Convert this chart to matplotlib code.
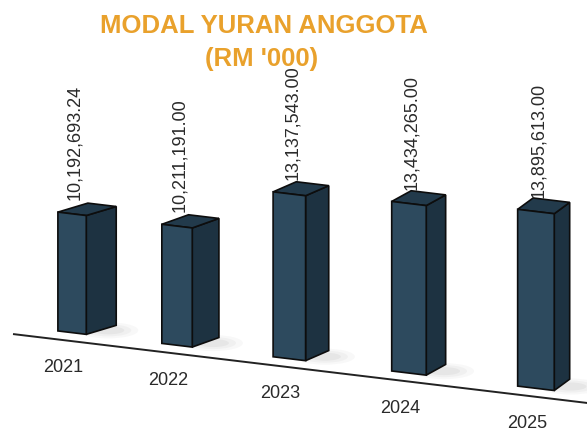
import numpy as np
import matplotlib
matplotlib.use('Agg')
import matplotlib.pyplot as plt
from matplotlib.transforms import Affine2D, IdentityTransform
from matplotlib.patches import Polygon, Ellipse

# ---- data ----
years = ['2021', '2022', '2023', '2024', '2025']
values = [10192693.24, 10211191.00, 13137543.00, 13434265.00, 13895613.00]
value_labels = ['10,192,693.24', '10,211,191.00', '13,137,543.00',
                '13,434,265.00', '13,895,613.00']
title_line1 = 'MODAL YURAN ANGGOTA'
title_line2 = "(RM '000)"

# ---- layout / style ----
W, H, DPI = 587, 432, 100
FONT = 'Liberation Sans'
FRONT = '#2d4a5e'
SIDE = '#1d3241'
TOP = '#223a4b'
EDGE = '#0d0d0d'
TEXT = '#2a2a2a'
ORANGE = '#E9A12C'

FLOOR = 2.6e6           # value at which the bars stand on the floor
PX_PER_VAL = 15.65e-6   # vertical pixels per unit value
FLOOR_PX = 108.0        # floor height (display px, before the tilt)
SLOPE = 0.12            # tilt of the floor
C = 0.0362              # perspective widening of the category spacing
PX_PER_UNIT = 101.3
X0_PX = 72.0
BAR_W = 0.28

fig = plt.figure(figsize=(W / DPI, H / DPI), dpi=DPI)
fig.patch.set_facecolor('white')
ax = fig.add_axes([0, 0, 1, 1])
ax.set_axis_off()


def fwd(x):
    x = np.asarray(x, dtype=float)
    return x + C * x ** 2


def inv(y):
    y = np.asarray(y, dtype=float)
    return (-1 + np.sqrt(np.maximum(1 + 4 * C * y, 0))) / (2 * C)


ax.set_xscale('function', functions=(fwd, inv))
ax.set_xlim(float(inv(-X0_PX / PX_PER_UNIT)), float(inv((W - X0_PX) / PX_PER_UNIT)))
ybot = FLOOR - FLOOR_PX / PX_PER_VAL
ax.set_ylim(ybot, ybot + H / PX_PER_VAL)

trans = ax.transData + Affine2D().skew(0, -np.arctan(SLOPE))
ident = IdentityTransform()

xs = np.arange(len(years))
heights = [v - FLOOR for v in values]

# floor line
line_y = FLOOR - 8.5 / PX_PER_VAL
x_start = float(inv((13 - X0_PX) / PX_PER_UNIT))
x_end = float(inv((W + 20 - X0_PX) / PX_PER_UNIT))
ax.plot([x_start, x_end], [line_y, line_y], color='#222222', lw=1.4,
        transform=trans, solid_capstyle='butt', zorder=1)

# front faces
bars = ax.bar(xs, heights, width=BAR_W, bottom=FLOOR, color=FRONT,
              edgecolor=EDGE, linewidth=1.2, transform=trans, zorder=4)

for i, (x, v) in enumerate(zip(xs, values)):
    fl_b, fr_b, fr_t, fl_t = trans.transform([(x - BAR_W / 2, FLOOR),
                                              (x + BAR_W / 2, FLOOR),
                                              (x + BAR_W / 2, v),
                                              (x - BAR_W / 2, v)])
    dx = 30 - 0.031 * (fr_b[0] - 85)
    dy = 9 + 0.005 * (fr_b[0] - 85)
    d = np.array([dx, dy])
    # shadow
    for k, a in enumerate([0.05, 0.06, 0.08]):
        ax.add_patch(Ellipse(fr_b + np.array([10 + dx * 0.4, 4]),
                             width=60 - 14 * k, height=16 - 4 * k,
                             facecolor='#777777', alpha=a, edgecolor='none',
                             transform=ident, zorder=2))
    side = Polygon([fr_b, fr_t, fr_t + d, fr_b + d], closed=True,
                   facecolor=SIDE, edgecolor=EDGE, lw=1.2,
                   transform=ident, zorder=3)
    top = Polygon([fl_t, fr_t, fr_t + d, fl_t + d], closed=True,
                  facecolor=TOP, edgecolor=EDGE, lw=1.2,
                  transform=ident, zorder=3)
    ax.add_patch(side)
    ax.add_patch(top)

    ax.annotate(value_labels[i], xy=(x, v), xycoords=trans,
                xytext=(3, 14), textcoords='offset pixels',
                rotation=90, ha='center', va='bottom',
                fontsize=13, family=FONT, color=TEXT, zorder=6)
    ax.annotate(years[i], xy=(x, FLOOR), xycoords=trans,
                xytext=(-9, -35), textcoords='offset pixels',
                ha='center', va='center',
                fontsize=13, family=FONT, color=TEXT, zorder=6)

fig.text(264 / W, 1 - 26 / H, title_line1, ha='center', va='center',
         fontsize=18.5, fontweight='bold', family=FONT, color=ORANGE)
fig.text(262 / W, 1 - 59 / H, title_line2, ha='center', va='center',
         fontsize=18.5, fontweight='bold', family=FONT, color=ORANGE)

fig.savefig('out.png', dpi=DPI, facecolor='white')
